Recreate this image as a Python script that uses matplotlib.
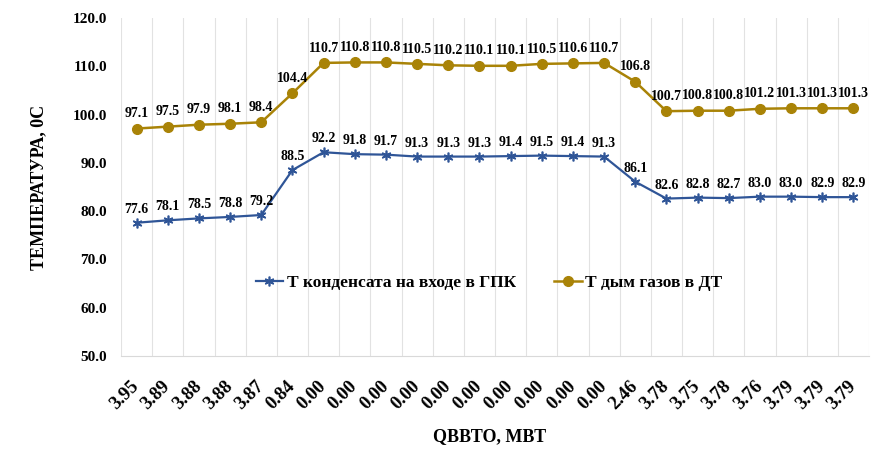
import numpy as np
import matplotlib
matplotlib.use('Agg')
import matplotlib.pyplot as plt
from matplotlib.ticker import FixedLocator

plt.rcParams['font.family'] = ['Liberation Serif', 'DejaVu Serif']
plt.rcParams['font.weight'] = 'bold'

# данные
q_labels = ['3.95', '3.89', '3.88', '3.88', '3.87', '0.84',
            '0.00', '0.00', '0.00', '0.00', '0.00', '0.00', '0.00', '0.00', '0.00', '0.00',
            '2.46', '3.78', '3.75', '3.78', '3.76', '3.79', '3.79', '3.79']
t_cond = [77.6, 78.1, 78.5, 78.8, 79.2, 88.5, 92.2, 91.8, 91.7, 91.3, 91.3, 91.3,
          91.4, 91.5, 91.4, 91.3, 86.1, 82.6, 82.8, 82.7, 83.0, 83.0, 82.9, 82.9]
t_gas = [97.1, 97.5, 97.9, 98.1, 98.4, 104.4, 110.7, 110.8, 110.8, 110.5, 110.2, 110.1,
         110.1, 110.5, 110.6, 110.7, 106.8, 100.7, 100.8, 100.8, 101.2, 101.3, 101.3, 101.3]
name_cond = 'Т конденсата на входе в ГПК'
name_gas = 'Т дым газов в ДТ'

blue = '#2F5597'
gold = '#A98307'

fig = plt.figure(figsize=(8.73, 4.61), dpi=100)
ax = fig.add_axes([121/873, 1 - 356/461, 748/873, 338/461])
x = np.arange(len(q_labels))

ax.plot(x, t_cond, color=blue, linewidth=1.6, marker=(6, 2, 0), markersize=7,
        markeredgewidth=1.2, label=name_cond)
ax.plot(x, t_gas, color=gold, linewidth=1.8, marker='o', markersize=7, label=name_gas)

for xi, v in zip(x, t_cond):
    ax.annotate(f'{v:.1f}', (xi, v), xytext=(0, 5), textcoords='offset points',
                ha='center', va='bottom', fontsize=10, fontweight='bold')
for xi, v in zip(x, t_gas):
    ax.annotate(f'{v:.1f}', (xi, v), xytext=(0, 6), textcoords='offset points',
                ha='center', va='bottom', fontsize=10, fontweight='bold')

ax.set_xlim(-0.5, len(q_labels) - 0.5)
ax.set_ylim(50, 120)
ax.set_yticks(np.arange(50, 121, 10))
ax.set_yticklabels([f'{v:.1f}' for v in np.arange(50, 121, 10)], fontsize=11, fontweight='bold')
ax.set_xticks(x)
ax.set_xticklabels(q_labels, rotation=45, ha='right', va='center', rotation_mode='anchor',
                   fontsize=13.5, fontweight='bold')
ax.tick_params(axis='x', length=0, pad=20)
ax.tick_params(axis='y', length=0, pad=10)

ax.xaxis.set_minor_locator(FixedLocator(np.arange(-0.5, len(q_labels), 1)))
ax.grid(which='minor', axis='x', color='#E2E2E2', linewidth=0.8)
ax.tick_params(which='minor', length=0)
for s in ['top', 'right', 'left']:
    ax.spines[s].set_visible(False)
ax.spines['bottom'].set_color('#D9D9D9')

ax.set_ylabel('ТЕМПЕРАТУРА, 0С', fontsize=13, fontweight='bold')
ax.yaxis.set_label_coords(-(121 - 47) / 748, 0.5)
ax.set_xlabel('QВВТО, МВТ', fontsize=13, fontweight='bold')
ax.xaxis.set_label_coords((490 - 121) / 748, -(428 - 356) / 338)

ax.legend(loc='center', bbox_to_anchor=((489 - 121) / 748, (356 - 283) / 338), ncol=2,
          frameon=False, handlelength=1.6, handletextpad=0.2,
          columnspacing=2.2, prop={'weight': 'bold', 'size': 12.5})

fig.savefig('out.png', dpi=100)
